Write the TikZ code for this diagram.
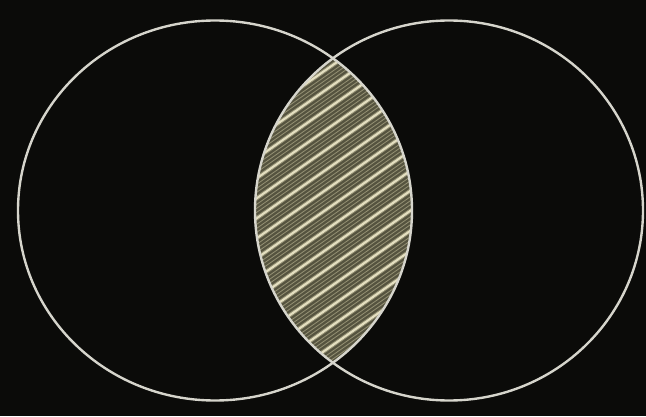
\documentclass[tikz,border=0pt]{standalone}
\usepackage{tikz}
\usepackage{xcolor}
\definecolor{boardBlack}{HTML}{0B0B09}
\definecolor{chalkWhite}{HTML}{D6D5CC}
\definecolor{chalkCream}{HTML}{E4DFC0}
\definecolor{chalkDust}{HTML}{A8A484}
\definecolor{lensShade}{HTML}{55533F}

\begin{document}
\begin{tikzpicture}[
        x=0.025cm, y=0.025cm,
        setline/.style={draw=chalkWhite, line width=1.7pt},
        fineline/.style={draw=chalkDust, line width=0.6pt, opacity=0.75},
        brightline/.style={draw=chalkCream, line width=1.6pt}
      ]
      % blackboard
      \fill[boardBlack] (0,0) rectangle (646,416);
      \useasboundingbox (0,0) rectangle (646,416);
      \coordinate (leftC)  at (215,205.5);
      \coordinate (rightC) at (449,205.5);
      % hatched intersection
      \begin{scope}
        \clip (leftC) ellipse [x radius=197, y radius=190];
        \clip (rightC) ellipse [x radius=194, y radius=190];
        \fill[lensShade] (240,40) rectangle (430,380);
        \foreach \k in {-80,-76,...,372}
          \draw[fineline] (240,\k) -- ++(190,133);
        \foreach \k in {-74,-54,...,366}
          \draw[brightline] (240,\k) -- ++(190,133);
      \end{scope}
      % the two sets
      \draw[setline] (leftC) ellipse [x radius=197, y radius=190];
      \draw[setline] (rightC) ellipse [x radius=194, y radius=190];
    \end{tikzpicture}
\end{document}
